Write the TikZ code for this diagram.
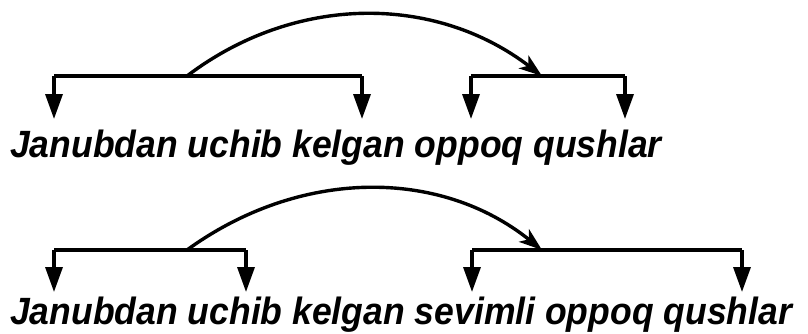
\documentclass[tikz,border=0pt]{standalone}
\usepackage{fontspec}
\setmainfont{Liberation Sans}
\newfontfamily\uzfont[FakeStretch=0.935]{Liberation Sans}
\usepackage{tikz}
\usetikzlibrary{positioning, calc, arrows.meta}

\tikzset{
  sentence/.style={anchor=base west, inner sep=0pt, font=\uzfont\fontsize{38}{38}\selectfont\bfseries\itshape},
  branch/.style={line width=3.4pt, -{Triangle[length=25pt,width=17pt]}},
  bar/.style={line width=3.4pt},
  jump/.style={line width=3.4pt, -{Stealth[length=23pt,width=16pt,inset=6pt]}},
}

\begin{document}
\begin{tikzpicture}[x=1pt,y=-1pt]
  \useasboundingbox (0,0) rectangle (808,333);

  % first sentence
  \node[sentence] (s1) at (10,157) {Janubdan uchib kelgan oppoq qushlar};
  \coordinate (a1l) at (54,76);   \coordinate (a1r) at (362,76);
  \coordinate (b1l) at (471,76);  \coordinate (b1r) at (625,76);
  \coordinate (a1m) at (187,76);  \coordinate (b1m) at (542,76);

  \path[bar] (a1l) edge (a1r) (b1l) edge (b1r);
  \path[branch]
    (a1l) edge ($(a1l)+(0,43)$)
    (a1r) edge ($(a1r)+(0,43)$)
    (b1l) edge ($(b1l)+(0,43)$)
    (b1r) edge ($(b1r)+(0,43)$);
  \draw[jump] (a1m) .. controls (295,-6) and (435,-6) .. (b1m);

  % second sentence
  \node[sentence] (s2) at (10,324) {Janubdan uchib kelgan sevimli oppoq qushlar};
  \coordinate (a2l) at (54,250);  \coordinate (a2r) at (246,250);
  \coordinate (b2l) at (472,250); \coordinate (b2r) at (742,250);
  \coordinate (a2m) at (187,250); \coordinate (b2m) at (542,250);

  \path[bar] (a2l) edge (a2r) (b2l) edge (b2r);
  \path[branch]
    (a2l) edge ($(a2l)+(0,42)$)
    (a2r) edge ($(a2r)+(0,42)$)
    (b2l) edge ($(b2l)+(0,42)$)
    (b2r) edge ($(b2r)+(0,42)$);
  \draw[jump] (a2m) .. controls (300,168) and (440,168) .. (b2m);
\end{tikzpicture}
\end{document}
